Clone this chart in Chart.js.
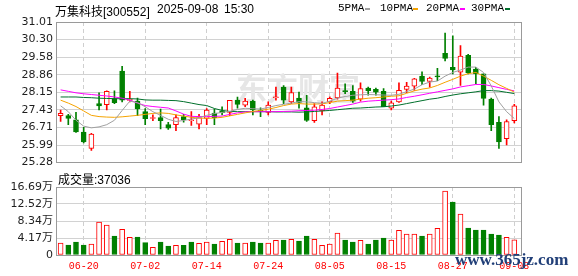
<!DOCTYPE html>
<html>
<head>
<meta charset="utf-8">
<script src="https://cdn.jsdelivr.net/npm/chart.js@4.4.1/dist/chart.umd.min.js"></script>
<style>
  html, body { margin: 0; padding: 0; background: #fff; }
  #wrap { position: relative; width: 578px; height: 276px; overflow: hidden; }
  canvas { position: absolute; left: 0; }
  .t { position: absolute; white-space: pre; line-height: 14px; color: #000; }
  .cjk { font: 12px 'Liberation Sans', 'Noto Sans CJK SC', sans-serif; }
  .mono { font: 11px 'Liberation Mono', 'Noto Sans CJK SC', monospace; }
  .sw { position: absolute; width: 5px; height: 2px; }
  .wm { position: absolute; left: 455px; top: 251px; font: bold 17px 'Liberation Serif', serif; color: #213f78; line-height: 17px; }
</style>
</head>
<body>
<div id="wrap">
  <canvas id="price" width="578" height="172" style="top:0"></canvas>
  <canvas id="vol" width="578" height="106" style="top:170px"></canvas>

  <div class="t cjk" style="left:55px;top:2px">万集科技[300552]</div>
  <div class="t cjk" style="left:157px;top:2px">2025-09-08</div>
  <div class="t cjk" style="left:224px;top:2px">15:30</div>

  <div class="t mono" style="left:338px;top:2px">5PMA</div>
  <div class="sw" style="left:365px;top:8px;background:#a0a0a0"></div>
  <div class="t mono" style="left:380px;top:2px">10PMA</div>
  <div class="sw" style="left:413px;top:8px;background:#f5a300"></div>
  <div class="t mono" style="left:426px;top:2px">20PMA</div>
  <div class="sw" style="left:460px;top:8px;background:#ff00ff"></div>
  <div class="t mono" style="left:471px;top:2px">30PMA</div>
  <div class="sw" style="left:505px;top:8px;background:#00702c"></div>

  <div class="t cjk" style="left:58px;top:170px">成交量:37036</div>
  <div class="wm">www.365jz.com</div>
</div>

<script>
const dates = ['06-17','06-18','06-19','06-20','06-23','06-24','06-25','06-26','06-27','06-30',
  '07-01','07-02','07-03','07-04','07-07','07-08','07-09','07-10','07-11','07-14',
  '07-15','07-16','07-17','07-18','07-21','07-22','07-23','07-24','07-25','07-28',
  '07-29','07-30','07-31','08-01','08-04','08-05','08-06','08-07','08-08','08-11',
  '08-12','08-13','08-14','08-15','08-18','08-19','08-20','08-21','08-22','08-25',
  '08-26','08-27','08-28','08-29','09-01','09-02','09-03','09-04','09-05','09-08'];

const openP  = [27.19,27.19,27.02,26.52,25.85,27.68,27.64,27.88,29.01,27.81,
  27.78,27.35,27.07,27.11,26.82,26.82,27.15,26.98,26.84,27.08,
  27.29,27.38,27.32,27.82,27.62,27.78,27.42,27.32,27.92,28.35,
  27.75,27.91,27.51,26.98,27.38,27.75,27.91,28.20,28.18,27.86,
  28.31,28.26,28.18,27.49,27.75,28.26,28.39,28.80,28.58,28.80,
  29.73,29.16,28.96,29.65,29.09,28.89,27.86,26.92,26.25,26.98];
const closeP = [27.28,27.08,26.52,26.12,26.44,27.58,28.18,27.72,27.82,27.84,
  27.46,27.06,27.09,26.98,26.68,27.11,27.02,27.00,27.11,27.42,
  27.11,27.31,27.81,27.65,27.78,27.42,27.35,27.62,27.96,27.82,
  28.13,27.73,26.99,27.55,27.62,27.89,28.31,28.17,27.78,28.29,
  28.21,28.15,27.55,27.71,28.22,28.39,28.69,28.58,28.72,28.77,
  29.52,29.05,29.62,28.93,28.89,27.89,26.82,26.12,26.95,27.59];
const highP  = [27.42,27.24,27.32,26.71,26.47,28.12,28.20,28.20,29.20,28.18,
  27.91,27.48,27.22,27.46,26.92,27.22,27.24,27.35,27.24,27.48,
  27.46,27.55,27.81,27.95,27.89,27.82,27.51,27.75,28.35,28.42,
  28.35,28.15,28.02,27.68,27.75,27.96,28.93,28.49,28.42,28.53,
  28.35,28.31,28.29,27.78,28.53,28.55,28.71,28.98,28.76,29.12,
  30.56,30.45,30.05,29.69,29.16,28.89,27.91,27.15,27.02,27.65];
const lowP   = [26.95,26.82,26.50,26.07,25.77,27.42,27.42,27.68,27.75,27.75,
  27.19,26.82,26.98,26.65,26.63,26.58,26.92,26.79,26.65,26.82,
  26.82,27.22,27.19,27.49,27.55,27.22,27.15,27.22,27.82,27.68,
  27.68,27.49,26.95,26.91,27.22,27.68,27.86,28.09,27.73,27.78,
  28.02,28.02,27.55,27.42,27.73,28.13,28.22,28.45,28.35,28.62,
  29.42,28.89,28.42,28.89,28.49,27.62,26.58,25.85,25.99,26.89];

const ma5  = [27.59,27.35,27.00,26.76,26.69,26.73,26.82,27.00,27.40,27.78,
  27.72,27.55,27.35,27.20,27.04,26.95,26.99,27.05,27.10,27.20,
  27.27,27.32,27.36,27.44,27.49,27.47,27.46,27.52,27.60,27.65,
  27.70,27.76,27.75,27.72,27.69,27.78,27.90,27.97,28.02,28.04,
  28.05,28.04,28.03,28.02,28.06,28.17,28.27,28.45,28.56,28.60,
  28.80,28.95,29.05,29.17,29.17,28.95,28.40,27.75,27.35,27.07];
const ma10 = [27.82,27.70,27.56,27.38,27.20,27.15,27.13,27.12,27.14,27.17,
  27.20,27.24,27.28,27.30,27.28,27.22,27.17,27.12,27.09,27.08,
  27.09,27.12,27.18,27.24,27.30,27.36,27.40,27.45,27.52,27.60,
  27.66,27.68,27.66,27.66,27.67,27.72,27.78,27.80,27.82,27.86,
  27.90,27.92,27.95,27.98,28.00,28.10,28.20,28.27,28.32,28.42,
  28.55,28.67,28.80,28.90,28.95,28.80,28.63,28.45,28.30,28.15];
const ma20 = [28.24,28.18,28.12,28.08,28.05,28.02,27.99,27.95,27.90,27.82,
  27.70,27.60,27.56,27.53,27.50,27.38,27.25,27.16,27.15,27.15,
  27.16,27.17,27.24,27.30,27.34,27.35,27.35,27.35,27.35,27.36,
  27.37,27.39,27.40,27.41,27.44,27.48,27.54,27.60,27.66,27.74,
  27.78,27.80,27.82,27.84,27.87,27.93,27.98,28.04,28.10,28.16,
  28.22,28.28,28.36,28.41,28.46,28.46,28.40,28.33,28.26,28.20];
const ma30 = [27.95,27.95,27.95,27.93,27.92,27.90,27.89,27.88,27.88,27.88,
  27.87,27.83,27.82,27.82,27.81,27.80,27.76,27.70,27.64,27.60,
  27.48,27.40,27.36,27.35,27.35,27.35,27.35,27.35,27.34,27.34,
  27.34,27.33,27.34,27.36,27.38,27.40,27.43,27.46,27.49,27.50,
  27.52,27.54,27.55,27.58,27.62,27.68,27.74,27.80,27.86,27.90,
  27.97,28.03,28.08,28.12,28.16,28.21,28.21,28.19,28.14,28.09];

// 成交量, 万
const volume = [2.95,2.45,3.19,2.45,2.70,8.10,7.36,4.66,6.30,4.34,
  4.42,3.02,1.88,3.19,2.21,2.37,2.37,3.19,2.86,3.19,
  2.70,3.35,3.84,2.95,2.95,3.19,2.95,2.95,3.60,3.68,
  3.84,3.44,4.66,3.84,2.37,2.70,5.40,3.68,3.19,3.60,
  2.70,3.68,4.17,3.68,6.05,5.15,5.15,4.66,5.15,6.55,
  15.71,13.01,10.06,6.63,6.14,6.14,5.15,4.91,4.34,3.7036];

const priceTicks = [25.28, 25.99, 26.71, 27.43, 28.15, 28.86, 29.58, 30.30, 31.01];
const volTicks = [0, 4.17, 8.34, 12.52, 16.69];
const labelIdx = [3, 11, 19, 27, 35, 43, 51, 59];

const RED = '#ff0000', GREEN = '#008000';
const candleUp = i => closeP[i] >= openP[i];
const volUp = i => i === 0 || closeP[i] >= closeP[i - 1];

Chart.defaults.font.family = "'DejaVu Sans', 'Noto Sans CJK SC', sans-serif";
Chart.defaults.animation = false;

const frame = {
  id: 'frame',
  beforeDatasetsDraw(chart, args, opts) {
    const a = chart.chartArea, c = chart.ctx;
    c.save();
    if (opts.watermark) {
      c.fillStyle = '#e6e6e6';
      c.font = "bold 31px 'Noto Sans CJK SC'";
      c.textBaseline = 'middle';
      c.fillText('东方财富', 236, 88);
    }
    c.strokeStyle = '#9a9a9a';
    c.lineWidth = 1;
    c.strokeRect(Math.round(a.left) + 0.5, Math.round(a.top) + 0.5,
      Math.round(a.right - a.left) - 1, Math.round(a.bottom - a.top));
    c.restore();
  }
};

const xAxis = (showLabels) => ({
  type: 'linear',
  offset: false,
  min: -0.6,
  max: 60,
  afterBuildTicks: s => { s.ticks = labelIdx.map(v => ({ value: v })); },
  afterFit: s => { s.height = showLabels ? 21 : 0; },
  grid: { color: '#cfcfcf', drawTicks: false, offset: false },
  border: { display: false, dash: [4, 3] },
  ticks: {
    display: showLabels,
    autoSkip: false,
    maxRotation: 0,
    padding: 5,
    color: RED,
    font: { family: "'Liberation Mono', monospace", size: 10 },
    callback: v => dates[v]
  }
});

const line = (data, color) => ({
  type: 'line',
  data: data.map((v, i) => ({ x: i, y: v })),
  borderColor: color,
  borderWidth: 1,
  pointRadius: 0,
  fill: false,
  tension: 0
});

new Chart(document.getElementById('price'), {
  data: {
    datasets: [
      line(ma5, '#a0a0a0'),
      line(ma10, '#f5a300'),
      line(ma20, '#ff00ff'),
      line(ma30, '#00702c'),
      {
        type: 'bar',
        data: dates.map((d, i) => ({ x: i, y: [openP[i], closeP[i]] })),
        barThickness: 5,
        grouped: false,
        minBarLength: 1,
        borderWidth: 1,
        borderSkipped: false,
        backgroundColor: ctx => candleUp(ctx.dataIndex) ? '#ffffff' : GREEN,
        borderColor: ctx => candleUp(ctx.dataIndex) ? RED : GREEN
      },
      {
        type: 'bar',
        data: dates.map((d, i) => ({ x: i, y: [lowP[i], highP[i]] })),
        barThickness: 1,
        grouped: false,
        borderWidth: 0,
        backgroundColor: ctx => candleUp(ctx.dataIndex) ? RED : GREEN
      }
    ]
  },
  options: {
    responsive: false,
    layout: { padding: { left: 0, right: 56, top: 22, bottom: 7 } },
    plugins: { legend: { display: false }, tooltip: { enabled: false }, frame: { watermark: true } },
    scales: {
      x: xAxis(false),
      y: {
        min: 25.28,
        max: 31.01,
        afterBuildTicks: s => { s.ticks = priceTicks.map(v => ({ value: v })); },
        afterFit: s => { s.width = 56; },
        grid: { color: '#d2d2d2', drawTicks: false },
        border: { display: false },
        ticks: { color: '#1e1e1e', padding: 3, font: { size: 11 }, callback: v => v.toFixed(2) }
      }
    }
  },
  plugins: [frame]
});

new Chart(document.getElementById('vol'), {
  data: {
    datasets: [{
      type: 'bar',
      data: volume.map((v, i) => ({ x: i, y: v })),
      barThickness: 5,
      grouped: false,
      borderWidth: 1,
      borderSkipped: false,
      backgroundColor: ctx => volUp(ctx.dataIndex) ? '#ffffff' : GREEN,
      borderColor: ctx => volUp(ctx.dataIndex) ? RED : GREEN
    }]
  },
  options: {
    responsive: false,
    layout: { padding: { left: 0, right: 56, top: 17, bottom: 0 } },
    plugins: { legend: { display: false }, tooltip: { enabled: false }, frame: { watermark: false } },
    scales: {
      x: xAxis(true),
      y: {
        min: 0,
        max: 16.69,
        afterBuildTicks: s => { s.ticks = volTicks.map(v => ({ value: v })); },
        afterFit: s => { s.width = 56; },
        grid: { color: '#d2d2d2', drawTicks: false },
        border: { display: false },
        ticks: { color: '#1e1e1e', padding: 3, font: { size: 11 }, callback: v => v === 0 ? '0' : v.toFixed(2) + '万' }
      }
    }
  },
  plugins: [frame]
});
</script>
</body>
</html>
